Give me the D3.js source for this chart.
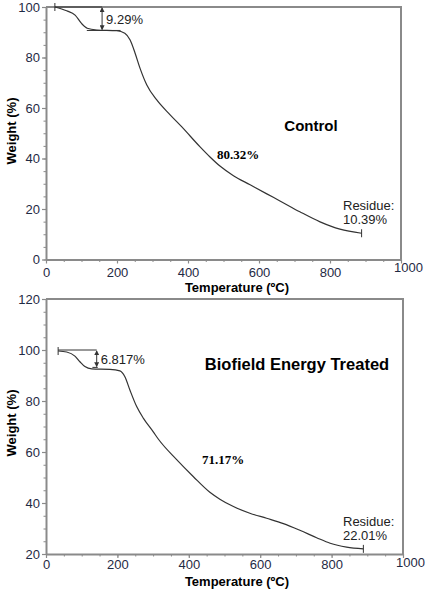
<!DOCTYPE html>
<html>
<head>
<meta charset="utf-8">
<script src="https://cdn.jsdelivr.net/npm/d3@7"></script>
<style>
  body { margin: 0; background: #fff; }
  svg { display: block; }
  text { font-family: "Liberation Sans", Arial, sans-serif; }
</style>
</head>
<body>
<svg id="chart" width="425" height="589"></svg>
<script>
"use strict";

// TGA curves: temperature (ºC) and weight (%)
var controlTemp   = [25, 58, 82, 100, 116, 143, 199, 222, 237, 251, 265, 284, 312, 349, 382, 434, 462, 490, 528, 575, 622, 659, 715, 772, 828, 889];
var controlWeight = [100, 98.5, 96.8, 93.5, 91.6, 90.9, 90.6, 89.6, 86.9, 81.7, 75.7, 69.1, 63.2, 57.4, 52.6, 44.6, 40.6, 37.0, 33.2, 29.6, 26.0, 23.2, 18.9, 14.9, 12.0, 10.39];

var treatedTemp   = [34, 58, 81, 95, 109, 128, 179, 207, 221, 235, 254, 273, 300, 315, 366, 413, 459, 487, 525, 571, 618, 665, 711, 758, 796, 842, 889];
var treatedWeight = [99.6, 99.2, 97.6, 95.4, 93.5, 92.6, 92.4, 91.8, 89.5, 84.3, 77.8, 73.2, 68.0, 65.0, 57.0, 50.3, 44.2, 41.5, 38.6, 36.0, 34.0, 31.9, 29.3, 26.4, 24.2, 22.7, 22.01];

var xTicks = [0, 200, 400, 600, 800, 1000];
var controlYTicks = [0, 20, 40, 60, 80, 100];
var treatedYTicks = [20, 40, 60, 80, 100, 120];

var axisGrey = "#8a8a8a";
var labelInk = "#1f2a44";

var svg = d3.select("#chart");

// arrow heads for the weight-loss brackets
var defs = svg.append("defs");
defs.append("marker")
    .attr("id", "head")
    .attr("viewBox", "0 0 6 6")
    .attr("refX", 5).attr("refY", 3)
    .attr("markerWidth", 5).attr("markerHeight", 5)
    .attr("orient", "auto-start-reverse")
    .append("path")
    .attr("d", "M0,0 L6,3 L0,6 Z")
    .attr("fill", "#333");

/**
    Draws one TGA panel.
*/
function drawPanel(p) {
    var x = d3.scaleLinear().domain([0, 1000]).range(p.xRange);
    var y = d3.scaleLinear().domain(p.yDomain).range(p.yRange);
    var g = svg.append("g");

    // frame: top and right edges
    g.append("path")
        .attr("d", "M" + x(0) + "," + y.range()[1] + "H" + x(1000) + "V" + y.range()[0])
        .attr("fill", "none")
        .attr("stroke", axisGrey)
        .attr("stroke-width", 2);

    // minor ticks
    var xMinor = d3.range(0, 1001, 50);
    var yMinor = d3.range(p.yDomain[0], p.yDomain[1] + 1, 5);

    g.append("g")
        .attr("transform", "translate(0," + y.range()[0] + ")")
        .call(d3.axisBottom(x).tickValues(xMinor).tickSize(2.5).tickFormat(""))
        .call(function(a) { a.select(".domain").remove(); })
        .selectAll("line").attr("stroke", axisGrey);

    g.append("g")
        .attr("transform", "translate(" + x(0) + ",0)")
        .call(d3.axisLeft(y).tickValues(yMinor).tickSize(2.5).tickFormat(""))
        .call(function(a) { a.select(".domain").remove(); })
        .selectAll("line").attr("stroke", axisGrey);

    // major axes
    var xa = g.append("g")
        .attr("transform", "translate(0," + y.range()[0] + ")")
        .call(d3.axisBottom(x).tickValues(xTicks).tickFormat(d3.format("d"))
            .tickSize(4).tickSizeOuter(0).tickPadding(2));
    var ya = g.append("g")
        .attr("transform", "translate(" + x(0) + ",0)")
        .call(d3.axisLeft(y).tickValues(p.yTicks).tickSize(4).tickSizeOuter(0).tickPadding(2));

    [xa, ya].forEach(function(a) {
        a.select(".domain").attr("stroke", axisGrey).attr("stroke-width", 2);
        a.selectAll(".tick line").attr("stroke", axisGrey).attr("stroke-width", 1.2);
        a.selectAll("text")
            .attr("fill", labelInk)
            .style("font-family", "'Liberation Sans', Arial, sans-serif")
            .style("font-size", "13px");
    });
    xa.selectAll("text").attr("dy", p.xLabelDy);
    xa.selectAll(".tick").filter(function(d) { return d === 1000; })
        .select("text").attr("dx", 7).attr("dy", "0.5em");

    // axis titles
    g.append("text")
        .attr("x", 237).attr("y", p.xTitleY)
        .attr("text-anchor", "middle")
        .style("font-weight", "bold").style("font-size", "13px")
        .text("Temperature (ºC)");
    g.append("text")
        .attr("transform", "translate(16," + p.yTitleY + ") rotate(-90)")
        .attr("text-anchor", "middle")
        .style("font-weight", "bold").style("font-size", "13px")
        .text("Weight (%)");

    // the curve
    var pts = p.temp.map(function(t, i) { return [t, p.weight[i]]; });
    var line = d3.line()
        .x(function(d) { return x(d[0]); })
        .y(function(d) { return y(d[1]); })
        .curve(d3.curveMonotoneX);
    g.append("path")
        .datum(pts)
        .attr("d", line)
        .attr("fill", "none")
        .attr("stroke", "#333")
        .attr("stroke-width", 1.2);

    var first = pts[0], last = pts[pts.length - 1];
    // small end markers
    [first, last].forEach(function(d) {
        g.append("line")
            .attr("x1", x(d[0])).attr("x2", x(d[0]))
            .attr("y1", y(d[1]) - 4).attr("y2", y(d[1]) + 4)
            .attr("stroke", "#333").attr("stroke-width", 1);
    });

    // first weight-loss bracket
    var b = p.bracket;
    g.append("line")
        .attr("x1", x(b.fromT)).attr("x2", x(b.atT))
        .attr("y1", y(b.top)).attr("y2", y(b.top))
        .attr("stroke", "#333").attr("stroke-width", 1);
    g.append("line")
        .attr("x1", x(b.lowFrom)).attr("x2", x(b.lowTo))
        .attr("y1", y(b.bottom)).attr("y2", y(b.bottom))
        .attr("stroke", "#333").attr("stroke-width", 1);
    g.append("line")
        .attr("x1", x(b.atT)).attr("x2", x(b.atT))
        .attr("y1", y(b.top) + 1).attr("y2", y(b.bottom) - 1)
        .attr("stroke", "#333").attr("stroke-width", 1)
        .attr("marker-start", "url(#head)")
        .attr("marker-end", "url(#head)");
    g.append("text")
        .attr("x", x(b.atT) + 4).attr("y", (y(b.top) + y(b.bottom)) / 2 + 5)
        .style("font-size", "13px").attr("fill", "#222")
        .text(b.label);

    // sample name
    g.append("text")
        .attr("x", p.nameX).attr("y", p.nameY)
        .attr("text-anchor", "middle")
        .style("font-weight", "bold").style("font-size", p.nameSize)
        .text(p.name);

    // main loss
    g.append("text")
        .attr("x", p.lossX).attr("y", p.lossY)
        .style("font-family", "'Liberation Serif', 'Times New Roman', serif")
        .style("font-weight", "bold").style("font-size", "13px")
        .text(p.loss);

    // residue
    g.append("text")
        .attr("x", 343).attr("y", y(last[1]) - 23)
        .style("font-size", "13px").attr("fill", "#222")
        .text("Residue:");
    g.append("text")
        .attr("x", 343).attr("y", y(last[1]) - 9)
        .style("font-size", "13px").attr("fill", "#222")
        .text(d3.format(".2f")(last[1]) + "%");
}

drawPanel({
    xRange: [46, 401], yDomain: [0, 100], yRange: [259.5, 7],
    yTicks: controlYTicks, xTitleY: 292, yTitleY: 131, xLabelDy: "0.85em",
    temp: controlTemp, weight: controlWeight,
    bracket: { fromT: 25, atT: 158, top: 100, bottom: 90.71, lowFrom: 115, lowTo: 210, label: "9.29%" },
    name: "Control", nameX: 311, nameY: 131, nameSize: "15px",
    loss: "80.32%", lossX: 217, lossY: 159
});

drawPanel({
    xRange: [46, 403], yDomain: [20, 120], yRange: [554, 299],
    yTicks: treatedYTicks, xTitleY: 586, yTitleY: 423, xLabelDy: "0.7em",
    temp: treatedTemp, weight: treatedWeight,
    bracket: { fromT: 34, atT: 142, top: 100, bottom: 93.18, lowFrom: 130, lowTo: 145, label: "6.817%" },
    name: "Biofield Energy Treated", nameX: 297, nameY: 370, nameSize: "16.5px",
    loss: "71.17%", lossX: 202, lossY: 464
});
</script>
</body>
</html>
